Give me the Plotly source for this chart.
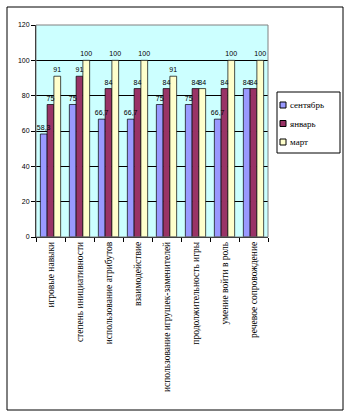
import plotly.graph_objects as go

categories = [
    "игровые навыки",
    "степень инициативности",
    "использование атрибутов",
    "взаимодействие",
    "использование игрушек-заменителей",
    "продолжительность игры",
    "умение войти в роль",
    "речевое сопровождение",
]
september = [58.3, 75, 66.7, 66.7, 75, 75, 66.7, 84]
january = [75, 91, 84, 84, 84, 84, 84, 84]
march = [91, 100, 100, 100, 91, 84, 100, 100]

series_names = ["сентябрь", "январь", "март"]
series_colors = ["#9999FF", "#993366", "#FFFFCC"]

W, H = 350, 417
ML, MR, MT, MB = 36, 82, 25, 180
PW, PH = W - ML - MR, H - MT - MB


def px(x):
    return (x - ML) / PW


def py(y):
    return (H - MB - y) / PH


def fmt(v):
    return f"{v:g}".replace(".", ",")


series = list(zip(series_names, [september, january, march], series_colors))

fig = go.Figure()
# the bars themselves
for i, (name, vals, color) in enumerate(series):
    fig.add_trace(go.Bar(
        x=categories,
        y=vals,
        name=name,
        offsetgroup=str(i),
        marker=dict(color=color, line=dict(color="black", width=0.7)),
        showlegend=False,
        hoverinfo="skip",
    ))
# value labels on a transparent copy, so they sit above every bar
for i, (name, vals, color) in enumerate(series):
    fig.add_trace(go.Bar(
        x=categories,
        y=vals,
        name=name,
        offsetgroup=str(i),
        marker=dict(color="rgba(0,0,0,0)", line=dict(width=0)),
        text=[fmt(v) for v in vals],
        textposition="outside",
        textangle=0,
        constraintext="none",
        textfont=dict(family="Liberation Sans, Arial", size=7, color="black"),
        cliponaxis=False,
        showlegend=False,
    ))

shapes = [
    # grey frame around the plotting area
    dict(type="rect", xref="paper", yref="paper", x0=0, x1=1, y0=0, y1=1,
         line=dict(color="#808080", width=1), layer="above"),
    # outer chart border
    dict(type="rect", xref="paper", yref="paper",
         x0=px(7), x1=px(343), y0=py(410), y1=py(7),
         line=dict(color="black", width=1)),
    # legend box
    dict(type="rect", xref="paper", yref="paper",
         x0=px(277), x1=px(340), y0=py(153), y1=py(92),
         line=dict(color="black", width=1), fillcolor="white"),
]
annotations = []
for i, (name, vals, color) in enumerate(series):
    yc = 105 + i * 18.5
    shapes.append(dict(type="rect", xref="paper", yref="paper",
                       x0=px(280), x1=px(286), y0=py(yc + 3), y1=py(yc - 3),
                       line=dict(color="black", width=1), fillcolor=color))
    annotations.append(dict(xref="paper", yref="paper", x=px(288), y=py(yc),
                            xanchor="left", yanchor="middle", showarrow=False,
                            text=name,
                            font=dict(family="Liberation Serif, DejaVu Serif",
                                      size=9, color="black")))

fig.update_layout(
    width=W,
    height=H,
    margin=dict(l=ML, r=MR, t=MT, b=MB),
    paper_bgcolor="white",
    plot_bgcolor="#CCFFFF",
    barmode="group",
    bargap=0.3,
    bargroupgap=0,
    font=dict(family="Liberation Sans, Arial", size=7, color="black"),
    showlegend=False,
    xaxis=dict(
        tickangle=-90,
        tickson="boundaries",
        ticks="outside",
        ticklen=4,
        tickcolor="black",
        showline=True,
        linecolor="black",
        linewidth=1,
        showgrid=False,
        tickfont=dict(family="Liberation Serif, DejaVu Serif", size=9.5, color="black"),
    ),
    yaxis=dict(
        range=[0, 120],
        dtick=20,
        ticks="outside",
        ticklen=4,
        tickcolor="black",
        showline=True,
        linecolor="black",
        linewidth=1,
        showgrid=True,
        gridcolor="black",
        gridwidth=1,
        zeroline=False,
        tickfont=dict(family="Liberation Sans, Arial", size=7, color="black"),
    ),
    shapes=shapes,
    annotations=annotations,
)

fig.write_html("out.html")
